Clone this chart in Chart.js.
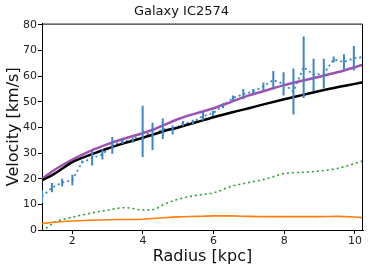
<!DOCTYPE html>
<html>
<head>
<meta charset="utf-8">
<script src="https://cdn.jsdelivr.net/npm/chart.js@4/dist/chart.umd.min.js"></script>
<style>
html,body{margin:0;padding:0;background:#fff;}
#wrap{width:374px;height:270px;}
</style>
</head>
<body>
<div id="wrap"><canvas id="chart"></canvas></div>
<script>
// observed rotation curve
const radius = [1.14,1.42,1.71,2.0,2.28,2.56,2.85,3.13,3.42,3.71,3.99,4.27,4.56,4.84,5.13,5.41,5.70,5.98,6.27,6.55,6.84,7.12,7.41,7.69,7.98,8.26,8.55,8.83,9.12,9.40,9.69,9.97,10.25];
const velocity = [13,16.5,18.5,19.5,26.5,28,29.5,33,34.5,35,38.5,36.5,39.5,39,41.5,42,44.5,45.5,48.5,51.5,53,54,56,58.5,57,54,63.5,60.5,61,66.5,65.5,67,67.5];
const velErr = [2.5,1.8,1.5,2,0.5,2.8,2,3.3,1,1,10,5.3,4,1.8,1,1,1.8,1,1,1,2,1,1.5,3.5,4.5,9,12,6.3,5.8,1.2,3,4.8,1];

// model curves
const modelR = [1.14,1.5,2,2.5,3,3.5,4,4.3,4.6,5,5.5,6,6.5,7,7.5,8,8.5,9,9.5,10,10.23];
const fitBlack = [19.3,22,26.5,29.3,31.8,34,36,37.3,38.6,40,42,44,45.8,47.5,49.3,51,52.6,54.2,55.7,57,57.6];
const fitPurple = [20,23.5,27.5,30.8,33.5,35.8,37.8,39.2,41,43.3,45.5,47.5,50,52.5,54.5,56.5,58.2,59.8,61.5,63.5,64.5];
const gas = [-0.5,3,5,6.5,7.8,8.7,7.8,8,10,12,13.5,14.5,17,18.5,20,22,22.5,23,24,26,27];
const disk = [2.5,3,3.5,3.8,4,4.1,4.2,4.5,4.8,5.1,5.3,5.5,5.5,5.3,5.2,5.2,5.2,5.2,5.3,5.1,4.8];

const xTicks = [2,4,6,8,10];

function pts(xs,ys){return xs.map((x,i)=>({x:x,y:ys[i]}));}

const errorBars = {
id:"errorBars",
afterDatasetsDraw(chart){
const ctx=chart.ctx;
const xs=chart.scales.x, ys=chart.scales.y;
const a=chart.chartArea;
ctx.save();
ctx.beginPath();
ctx.rect(a.left,a.top,a.right-a.left,a.bottom-a.top);
ctx.clip();
ctx.strokeStyle="#3d85c6";
ctx.lineWidth=2;
radius.forEach((r,i)=>{
const px=xs.getPixelForValue(r);
ctx.beginPath();
ctx.moveTo(px,ys.getPixelForValue(velocity[i]-velErr[i]));
ctx.lineTo(px,ys.getPixelForValue(velocity[i]+velErr[i]));
ctx.stroke();
});
ctx.restore();
// top and right spines
ctx.save();
ctx.strokeStyle="#000";
ctx.lineWidth=1;
ctx.beginPath();
ctx.moveTo(a.left,a.top+0.5);
ctx.lineTo(a.right-0.5,a.top+0.5);
ctx.lineTo(a.right-0.5,a.bottom);
ctx.stroke();
ctx.restore();
}
};

const font = "'DejaVu Sans', sans-serif";

new Chart(document.getElementById("chart"),{
type:"line",
data:{
datasets:[
{label:"disk",data:pts(modelR,disk),borderColor:"#ff7f0e",borderWidth:1.6,pointRadius:0,cubicInterpolationMode:"monotone"},
{label:"gas",data:pts(modelR,gas),borderColor:"#2ca02c",borderWidth:1.6,borderDash:[2,3],pointRadius:0,cubicInterpolationMode:"monotone"},
{label:"fit1",data:pts(modelR,fitBlack),borderColor:"#000",borderWidth:2.5,pointRadius:0,cubicInterpolationMode:"monotone"},
{label:"fit2",data:pts(modelR,fitPurple),borderColor:"#a04fb4",borderWidth:2.5,pointRadius:0,cubicInterpolationMode:"monotone"},
{label:"obs",data:pts(radius,velocity),borderColor:"#3d85c6",borderWidth:1.8,borderDash:[2,3],pointRadius:0,tension:0}
]
},
options:{
responsive:true,
maintainAspectRatio:false,
animation:false,
layout:{padding:{left:0,right:11,top:0,bottom:0}},
plugins:{
legend:{display:false},
tooltip:{enabled:false},
title:{display:true,text:"Galaxy IC2574",color:"#111",font:{family:font,size:13,weight:"normal"},padding:{top:4,bottom:4}}
},
scales:{
x:{
type:"linear",
min:1.14,max:10.23,
afterBuildTicks(s){s.ticks=xTicks.map(v=>({value:v}));},
afterFit(s){s.height=40;},
ticks:{color:"#222",font:{family:font,size:11},padding:1,maxRotation:0,autoSkip:false},
grid:{display:true,drawOnChartArea:false,drawTicks:true,tickLength:4,tickColor:"#000"},
border:{display:true,color:"#000",width:1},
title:{display:true,text:"Radius [kpc]",color:"#111",font:{family:font,size:16},padding:{top:0,bottom:4}}
},
y:{
min:0,max:80.5,
afterBuildTicks(s){s.ticks=[0,10,20,30,40,50,60,70,80].map(v=>({value:v}));},
afterFit(s){s.width=42;},
ticks:{color:"#222",font:{family:font,size:11},padding:1},
grid:{display:true,drawOnChartArea:false,drawTicks:true,tickLength:4,tickColor:"#000"},
border:{display:true,color:"#000",width:1},
title:{display:true,text:"Velocity [km/s]",color:"#111",font:{family:font,size:16},padding:{top:4,bottom:0}}
}
}
},
plugins:[errorBars]
});
</script>
</body>
</html>
